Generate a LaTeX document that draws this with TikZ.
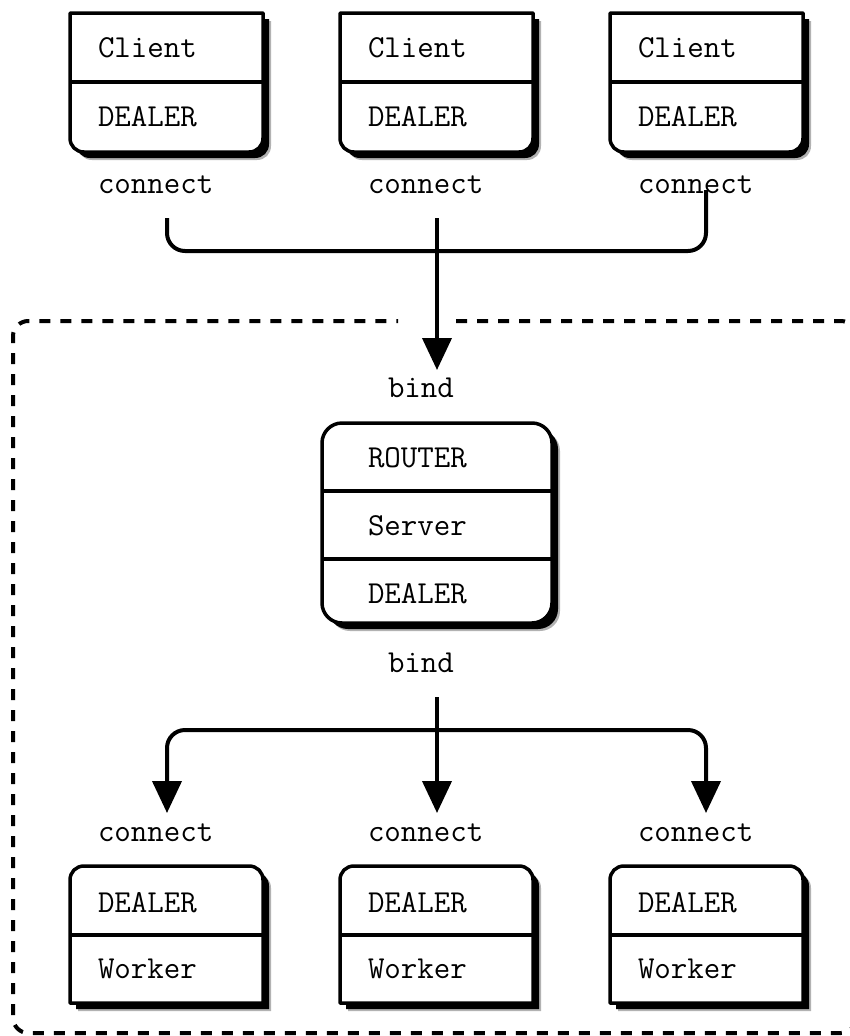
\documentclass[tikz,border=0pt]{standalone}
\usetikzlibrary{arrows.meta}
\tikzset{
  lbl/.style={anchor=base west, inner sep=0pt, outer sep=0pt, font=\ttfamily\fontsize{32}{36}\selectfont},
  boxline/.style={line width=3.5pt, line join=round},
  conn/.style={line width=4pt, rounded corners=18pt},
  arr/.style={-{Triangle[width=29pt,length=32pt]}},
  dashbox/.style={line width=4pt, dash pattern=on 11pt off 10pt},
  shadowA/.style={fill=black!30, shift={(8,8)}},
  shadowB/.style={fill=black, shift={(6,6)}}
}
\newcommand{\clientpath}{(70,13) -- (263,13) -- (263,138) .. controls (263,146) and (257,152) .. (249,152) -- (84,152) .. controls (76,152) and (70,146) .. (70,138) -- cycle}
\newcommand{\workerpath}{(84,866) -- (249,866) .. controls (257,866) and (263,872) .. (263,880) -- (263,1003) -- (70,1003) -- (70,880) .. controls (70,872) and (76,866) .. (84,866) -- cycle}
\newcommand{\serverpath}{(342,423) -- (532,423) .. controls (543,423) and (552,432) .. (552,443) -- (552,603) .. controls (552,614) and (543,623) .. (532,623) -- (342,623) .. controls (331,623) and (322,614) .. (322,603) -- (322,443) .. controls (322,432) and (331,423) .. (342,423) -- cycle}
\begin{document}
\begin{tikzpicture}[x=1pt, y=-1pt]
\useasboundingbox (0,0) rectangle (850,1036);
% dashed boundary
\begin{scope}
\clip (0,0) rectangle (850,1036);
\draw[dashbox] (456,321) -- (841,321) .. controls (849,321) and (856,328) .. (856,336) -- (856,1018) .. controls (856,1026) and (849,1033) .. (841,1033) -- (28,1033) .. controls (20,1033) and (13,1026) .. (13,1018) -- (13,336) .. controls (13,328) and (20,321) .. (28,321) -- (398,321);
\end{scope}
% client and worker boxes
\foreach \i/\o in {1/0,2/270,3/540}{
  \begin{scope}[xshift=\o]
    \fill[shadowA] \clientpath;
    \fill[shadowB] \clientpath;
    \fill[white] \clientpath;
    \draw[boxline] \clientpath;
    \draw[boxline] (70,82) -- (263,82);
    \node[lbl] (client\i) at (98,57) {Client};
    \node[lbl] (cdealer\i) at (98,126) {DEALER};
    \node[lbl] (cconn\i) at (98,193) {connect};
  \end{scope}
  \begin{scope}[xshift=\o]
    \fill[shadowA] \workerpath;
    \fill[shadowB] \workerpath;
    \fill[white] \workerpath;
    \draw[boxline] \workerpath;
    \draw[boxline] (70,935) -- (263,935);
    \node[lbl] (wconn\i) at (98,841) {connect};
    \node[lbl] (wdealer\i) at (98,912) {DEALER};
    \node[lbl] (worker\i) at (98,978) {Worker};
  \end{scope}
}
% server box
\fill[shadowA] \serverpath;
\fill[shadowB] \serverpath;
\fill[white] \serverpath;
\draw[boxline] \serverpath;
\draw[boxline] (322,491) -- (552,491);
\draw[boxline] (322,559) -- (552,559);
\node[lbl] (router) at (368,467) {ROUTER};
\node[lbl] (server) at (368,535) {Server};
\node[lbl] (sdealer) at (368,603) {DEALER};
\node[lbl] (bindA) at (388,397) {bind};
\node[lbl] (bindB) at (388,672) {bind};
% connectors top
\coordinate (a1) at (167,218);
\coordinate (a2) at (437,218);
\coordinate (a3) at (706,190);
\coordinate (m1) at (437,251);
\coordinate (tip1) at (437,370);
\draw[conn] (a1) |- (m1) -| (a3);
\draw[conn, arr] (a2) -- (tip1);
% connectors bottom
\coordinate (s) at (437,697);
\coordinate (j) at (437,730);
\coordinate (t1) at (167,813);
\coordinate (t2) at (437,813);
\coordinate (t3) at (706,813);
\draw[conn, arr] (j) -| (t1);
\draw[conn, arr] (j) -| (t3);
\draw[conn, arr] (s) -- (t2);
\end{tikzpicture}
\end{document}
